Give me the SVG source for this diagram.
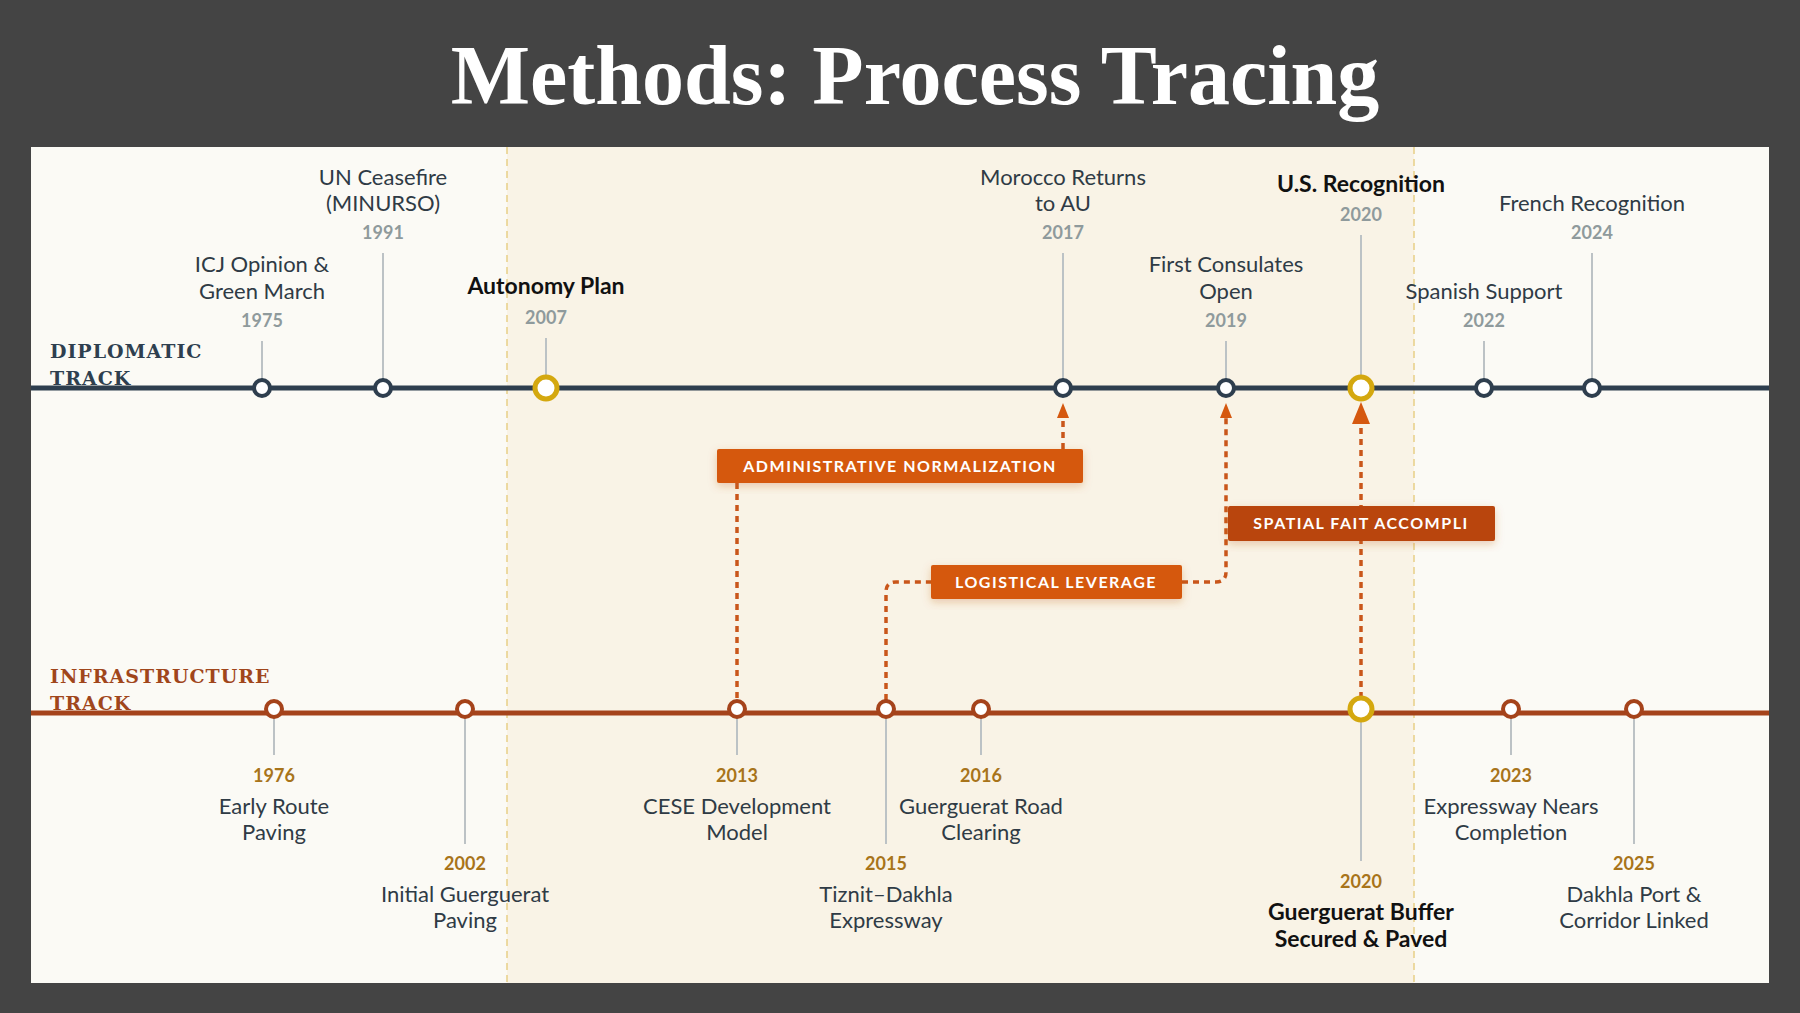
<svg xmlns="http://www.w3.org/2000/svg" width="1800" height="1013" viewBox="0 0 1800 1013">
<defs>
<style>
.t{font-family:Lato,"Open Sans","Liberation Sans",sans-serif;font-size:22px;fill:#2f3b45;text-anchor:middle}
.b{font-weight:bold;fill:#111;font-size:23px}
.yd{font-family:Lato,"Liberation Sans",sans-serif;font-size:18px;font-weight:bold;fill:#8f9a9c;text-anchor:middle}
.yi{font-family:Lato,"Liberation Sans",sans-serif;font-size:18px;font-weight:bold;fill:#a8741a;text-anchor:middle}
.stem{stroke:#bcc2c5;stroke-width:2}
.nd{fill:#fff;stroke:#2e3e4e;stroke-width:4}
.ni{fill:#fff;stroke:#a5431b;stroke-width:4}
.ng{fill:#fff;stroke:#d4a80f;stroke-width:5}
.trk{font-family:"DejaVu Serif","Liberation Serif",serif;font-weight:bold;font-size:19px;letter-spacing:1px}
.box{fill:#d5580f}
.bt{font-family:Lato,"Liberation Sans",sans-serif;font-weight:bold;font-size:16px;fill:#fff;letter-spacing:1.5px;text-anchor:middle}
.dot{fill:none;stroke:#c9561a;stroke-width:3.5;stroke-dasharray:6 5}
.ah{fill:#d5580f}
</style>
<filter id="sh" x="-10%" y="-30%" width="120%" height="160%"><feDropShadow dx="0" dy="3" stdDeviation="4" flood-color="#c06020" flood-opacity="0.3"/></filter>
</defs>
<rect width="1800" height="1013" fill="#444444"/>
<text x="915" y="104" text-anchor="middle" font-family="'Liberation Serif','DejaVu Serif',serif" font-weight="bold" font-size="84" fill="#fff">Methods: Process Tracing</text>
<rect x="31" y="147" width="1738" height="836" fill="#fbfaf5"/>
<rect x="507" y="147" width="907" height="836" fill="#f9f3e6"/>
<line x1="507" y1="147" x2="507" y2="983" stroke="#e8cf86" stroke-width="1.5" stroke-dasharray="7 5"/>
<line x1="1414" y1="147" x2="1414" y2="983" stroke="#e8cf86" stroke-width="1.5" stroke-dasharray="7 5"/>

<g id="tracks">
<line x1="31" y1="388" x2="1769" y2="388" stroke="#2e3e4e" stroke-width="5"/>
<line x1="31" y1="713" x2="1769" y2="713" stroke="#a5431b" stroke-width="5"/>
<text class="trk" x="50" y="358" fill="#2e3f4f">DIPLOMATIC</text>
<text class="trk" x="50" y="385" fill="#2e3f4f">TRACK</text>
<text class="trk" x="50" y="683" fill="#a0461b">INFRASTRUCTURE</text>
<text class="trk" x="50" y="710" fill="#a0461b">TRACK</text>
</g>

<g id="connectors">
<path class="dot" d="M737 483 V700"/>
<path class="dot" d="M1063 449 V418"/>
<polygon class="ah" points="1063,403 1057,418 1069,418"/>
<path class="dot" d="M886 700 V592 Q886 582 896 582 H931"/>
<path class="dot" d="M1182 582 H1216 Q1226 582 1226 572 V418"/>
<polygon class="ah" points="1226,403 1220,418 1232,418"/>
<path class="dot" d="M1361 698 V422"/>
<polygon class="ah" points="1361,402 1352,424 1370,424"/>
</g>

<g id="d1975"><line class="stem" x1="262" y1="341" x2="262" y2="380"/><text class="t" x="262" y="272">ICJ Opinion &amp;</text><text class="t" x="262" y="299">Green March</text><text class="yd" x="262" y="327">1975</text><circle class="nd" cx="262" cy="388" r="8"/></g>
<g id="d1991"><line class="stem" x1="383" y1="253" x2="383" y2="380"/><text class="t" x="383" y="185">UN Ceasefire</text><text class="t" x="383" y="211">(MINURSO)</text><text class="yd" x="383" y="239">1991</text><circle class="nd" cx="383" cy="388" r="8"/></g>
<g id="d2007"><line class="stem" x1="546" y1="338" x2="546" y2="378"/><text class="t b" x="546" y="294">Autonomy Plan</text><text class="yd" x="546" y="324">2007</text><circle class="ng" cx="546" cy="388" r="11"/></g>
<g id="d2017"><line class="stem" x1="1063" y1="253" x2="1063" y2="380"/><text class="t" x="1063" y="185">Morocco Returns</text><text class="t" x="1063" y="211">to AU</text><text class="yd" x="1063" y="239">2017</text><circle class="nd" cx="1063" cy="388" r="8"/></g>
<g id="d2019"><line class="stem" x1="1226" y1="341" x2="1226" y2="380"/><text class="t" x="1226" y="272">First Consulates</text><text class="t" x="1226" y="299">Open</text><text class="yd" x="1226" y="327">2019</text><circle class="nd" cx="1226" cy="388" r="8"/></g>
<g id="d2020"><line class="stem" x1="1361" y1="235" x2="1361" y2="378"/><text class="t b" x="1361" y="192">U.S. Recognition</text><text class="yd" x="1361" y="221">2020</text><circle class="ng" cx="1361" cy="388" r="11"/></g>
<g id="d2022"><line class="stem" x1="1484" y1="341" x2="1484" y2="380"/><text class="t" x="1484" y="299">Spanish Support</text><text class="yd" x="1484" y="327">2022</text><circle class="nd" cx="1484" cy="388" r="8"/></g>
<g id="d2024"><line class="stem" x1="1592" y1="253" x2="1592" y2="380"/><text class="t" x="1592" y="211">French Recognition</text><text class="yd" x="1592" y="239">2024</text><circle class="nd" cx="1592" cy="388" r="8"/></g>

<g id="i1976"><line class="stem" x1="274" y1="717" x2="274" y2="755"/><text class="yi" x="274" y="782">1976</text><text class="t" x="274" y="814">Early Route</text><text class="t" x="274" y="840">Paving</text><circle class="ni" cx="274" cy="709" r="8"/></g>
<g id="i2002"><line class="stem" x1="465" y1="717" x2="465" y2="844"/><text class="yi" x="465" y="870">2002</text><text class="t" x="465" y="902">Initial Guerguerat</text><text class="t" x="465" y="928">Paving</text><circle class="ni" cx="465" cy="709" r="8"/></g>
<g id="i2013"><line class="stem" x1="737" y1="717" x2="737" y2="755"/><text class="yi" x="737" y="782">2013</text><text class="t" x="737" y="814">CESE Development</text><text class="t" x="737" y="840">Model</text><circle class="ni" cx="737" cy="709" r="8"/></g>
<g id="i2015"><line class="stem" x1="886" y1="717" x2="886" y2="844"/><text class="yi" x="886" y="870">2015</text><text class="t" x="886" y="902">Tiznit–Dakhla</text><text class="t" x="886" y="928">Expressway</text><circle class="ni" cx="886" cy="709" r="8"/></g>
<g id="i2016"><line class="stem" x1="981" y1="717" x2="981" y2="755"/><text class="yi" x="981" y="782">2016</text><text class="t" x="981" y="814">Guerguerat Road</text><text class="t" x="981" y="840">Clearing</text><circle class="ni" cx="981" cy="709" r="8"/></g>
<g id="i2020"><line class="stem" x1="1361" y1="720" x2="1361" y2="861"/><text class="yi" x="1361" y="888">2020</text><text class="t b" x="1361" y="920">Guerguerat Buffer</text><text class="t b" x="1361" y="947">Secured &amp; Paved</text><circle class="ng" cx="1361" cy="709" r="11"/></g>
<g id="i2023"><line class="stem" x1="1511" y1="717" x2="1511" y2="755"/><text class="yi" x="1511" y="782">2023</text><text class="t" x="1511" y="814">Expressway Nears</text><text class="t" x="1511" y="840">Completion</text><circle class="ni" cx="1511" cy="709" r="8"/></g>
<g id="i2025"><line class="stem" x1="1634" y1="717" x2="1634" y2="844"/><text class="yi" x="1634" y="870">2025</text><text class="t" x="1634" y="902">Dakhla Port &amp;</text><text class="t" x="1634" y="928">Corridor Linked</text><circle class="ni" cx="1634" cy="709" r="8"/></g>

<g id="c-admin"><rect class="box" x="717" y="449" width="366" height="34" rx="2" filter="url(#sh)"/><text class="bt" x="900" y="472">ADMINISTRATIVE NORMALIZATION</text></g>
<g id="c-log"><rect class="box" x="931" y="565" width="251" height="34" rx="2" filter="url(#sh)"/><text class="bt" x="1056" y="588">LOGISTICAL LEVERAGE</text></g>
<g id="c-spatial"><rect x="1228" y="506" width="267" height="35" rx="2" fill="#b9440f" filter="url(#sh)"/><text class="bt" x="1361" y="529">SPATIAL FAIT ACCOMPLI</text></g>
</svg>
